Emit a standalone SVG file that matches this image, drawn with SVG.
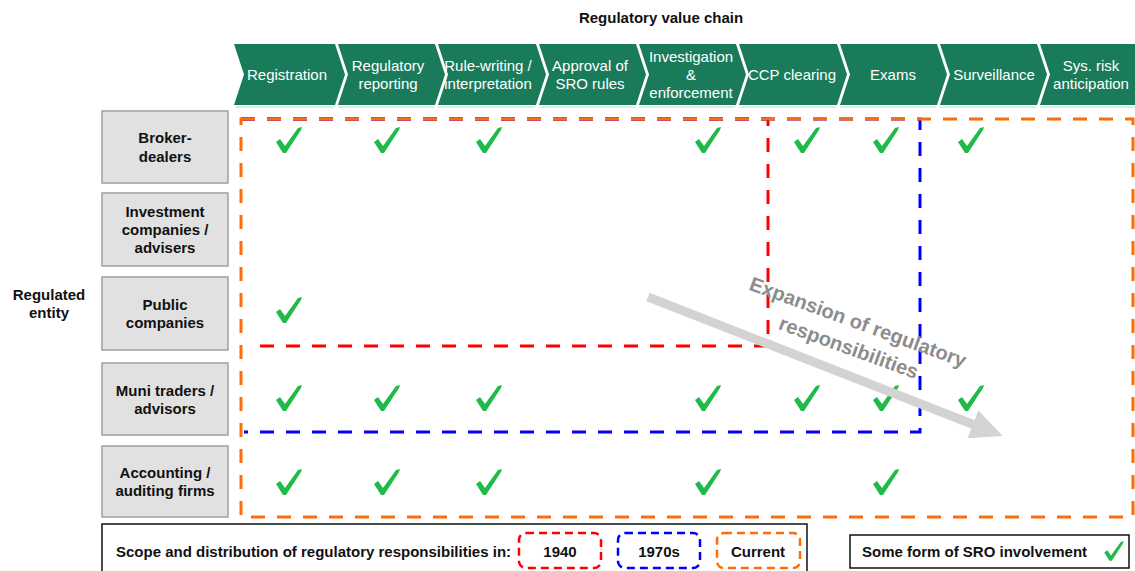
<svg xmlns="http://www.w3.org/2000/svg" xmlns:xlink="http://www.w3.org/1999/xlink" width="1135" height="571" viewBox="0 0 1135 571">
<style>
.chev{fill:#1a7b5a}
.strip{fill:#dfe9e8}
.ct{font-family:"Liberation Sans",Arial,sans-serif;font-size:15px;fill:#ffffff;text-anchor:middle}
.b{font-family:"Liberation Sans",Arial,sans-serif;font-size:15px;font-weight:bold;fill:#111111}
.mid{text-anchor:middle}
.ent{fill:#e1e1e1;stroke:#a0a0a0;stroke-width:1.5}
.dash{fill:none;stroke-width:3;stroke-dasharray:14 12}
.red{stroke:#ff0000}
.blue{stroke:#0000ff}
.orange{stroke:#ff6d0a}
.lg{fill:none;stroke-width:2.5;stroke-dasharray:8 5}
.box{fill:#ffffff;stroke:#111111;stroke-width:1.5}
.chk{fill:#1fba4a}
.exp{font-family:"Liberation Sans",Arial,sans-serif;font-size:20px;font-weight:bold;fill:#8c8c8c;text-anchor:middle}
</style>
<defs>
<path id="ck" class="chk" d="M-13,2 L-9,-1 L-4,6 L9,-12 L13,-13 L12,-10 L-3,13 L-6,13 Z"/>
</defs>

<text class="b mid" x="661" y="23">Regulatory value chain</text>

<g id="value-chain">
<g id="h-registration"><polygon class="chev" points="234,44 335,44 345,74.5 335,105 234,105 244,74.5"/><rect class="strip" x="236" y="106" width="98" height="2"/><text class="ct" x="287" y="80">Registration</text></g>
<g id="h-reporting"><polygon class="chev" points="338,44 435,44 445,74.5 435,105 338,105 348,74.5"/><rect class="strip" x="338" y="106" width="96" height="2"/><text class="ct" x="388" y="71">Regulatory</text><text class="ct" x="388" y="89">reporting</text></g>
<g id="h-rulewriting"><polygon class="chev" points="438,44 536,44 546,74.5 536,105 438,105 448,74.5"/><rect class="strip" x="438" y="106" width="97" height="2"/><text class="ct" x="488" y="71">Rule-writing /</text><text class="ct" x="488" y="89">interpretation</text></g>
<g id="h-approval"><polygon class="chev" points="539,44 636,44 646,74.5 636,105 539,105 549,74.5"/><rect class="strip" x="539" y="106" width="96" height="2"/><text class="ct" x="590" y="71">Approval of</text><text class="ct" x="590" y="89">SRO rules</text></g>
<g id="h-investigation"><polygon class="chev" points="639,44 736,44 746,74.5 736,105 639,105 649,74.5"/><rect class="strip" x="639" y="106" width="96" height="2"/><text class="ct" x="691" y="62">Investigation</text><text class="ct" x="691" y="80">&amp;</text><text class="ct" x="691" y="98">enforcement</text></g>
<g id="h-ccp"><polygon class="chev" points="739,44 837,44 847,74.5 837,105 739,105 749,74.5"/><rect class="strip" x="739" y="106" width="97" height="2"/><text class="ct" x="792" y="80">CCP clearing</text></g>
<g id="h-exams"><polygon class="chev" points="840,44 937,44 947,74.5 937,105 840,105 850,74.5"/><rect class="strip" x="840" y="106" width="96" height="2"/><text class="ct" x="893" y="80">Exams</text></g>
<g id="h-surveillance"><polygon class="chev" points="940,44 1037,44 1047,74.5 1037,105 940,105 950,74.5"/><rect class="strip" x="940" y="106" width="96" height="2"/><text class="ct" x="994" y="80">Surveillance</text></g>
<g id="h-sysrisk"><polygon class="chev" points="1040,44 1135,44 1135,105 1040,105 1050,74.5"/><rect class="strip" x="1040" y="106" width="95" height="2"/><text class="ct" x="1091" y="71">Sys. risk</text><text class="ct" x="1091" y="89">anticipation</text></g>
</g>

<text class="b mid" x="49" y="300">Regulated</text>
<text class="b mid" x="49" y="318">entity</text>

<g id="entities">
<g id="e-broker"><rect class="ent" x="102" y="111" width="126" height="72"/><text class="b mid" x="165" y="143">Broker-</text><text class="b mid" x="165" y="162">dealers</text></g>
<g id="e-investment"><rect class="ent" x="102" y="193" width="126" height="73"/><text class="b mid" x="165" y="217">Investment</text><text class="b mid" x="165" y="235">companies /</text><text class="b mid" x="165" y="253">advisers</text></g>
<g id="e-public"><rect class="ent" x="102" y="277" width="126" height="73"/><text class="b mid" x="165" y="310">Public</text><text class="b mid" x="165" y="328">companies</text></g>
<g id="e-muni"><rect class="ent" x="102" y="363" width="126" height="72"/><text class="b mid" x="165" y="396">Muni traders /</text><text class="b mid" x="165" y="414">advisors</text></g>
<g id="e-accounting"><rect class="ent" x="102" y="446" width="126" height="71"/><text class="b mid" x="165" y="478">Accounting /</text><text class="b mid" x="165" y="496">auditing firms</text></g>
</g>

<g id="scopes">
<path id="scope-1940" class="dash red" d="M241,119 H768 V346 H248"/>
<path id="scope-1970s" class="dash blue" d="M241,119 H920 V432 H244"/>
<rect id="scope-current" class="dash orange" x="241" y="119" width="892" height="398"/>
</g>

<g id="checks">
<use href="#ck" x="289" y="140"/><use href="#ck" x="387" y="140"/><use href="#ck" x="489" y="140"/><use href="#ck" x="708" y="140"/><use href="#ck" x="807" y="140"/><use href="#ck" x="886" y="140"/><use href="#ck" x="971" y="140"/>
<use href="#ck" x="289" y="310"/>
<use href="#ck" x="289" y="398"/><use href="#ck" x="387" y="398"/><use href="#ck" x="489" y="398"/><use href="#ck" x="708" y="398"/><use href="#ck" x="807" y="398"/><use href="#ck" x="886" y="398"/><use href="#ck" x="971" y="398"/>
<use href="#ck" x="289" y="482"/><use href="#ck" x="387" y="482"/><use href="#ck" x="489" y="482"/><use href="#ck" x="708" y="482"/><use href="#ck" x="886" y="482"/>
</g>

<g id="connectors">
<g id="expansion-arrow" transform="translate(648,297) rotate(21.4)">
<rect x="0" y="-4.5" width="352" height="9" fill="#d3d3d3"/>
<polygon points="349,-15 381,0 349,15" fill="#d3d3d3"/>
</g>
</g>
<g id="expansion-label" transform="translate(858,322) rotate(20)">
<text class="exp" x="0" y="7">Expansion of regulatory</text>
<text class="exp" x="0" y="34">responsibilities</text>
</g>

<g id="legend-scope">
<rect class="box" x="102" y="524" width="705" height="55"/>
<text class="b" x="116" y="557">Scope and distribution of regulatory responsibilities in:</text>
<rect class="lg red" x="519" y="533" width="82" height="35" rx="7"/>
<text class="b mid" x="560" y="557">1940</text>
<rect class="lg blue" x="618" y="533" width="82" height="35" rx="7"/>
<text class="b mid" x="659" y="557">1970s</text>
<rect class="lg orange" x="717" y="533" width="83" height="35" rx="7"/>
<text class="b mid" x="758" y="557">Current</text>
</g>

<g id="legend-sro">
<rect class="box" x="850" y="535" width="279" height="33"/>
<text class="b" x="862" y="557">Some form of SRO involvement</text>
<use href="#ck" transform="translate(1114,551) scale(0.75)"/>
</g>
</svg>
